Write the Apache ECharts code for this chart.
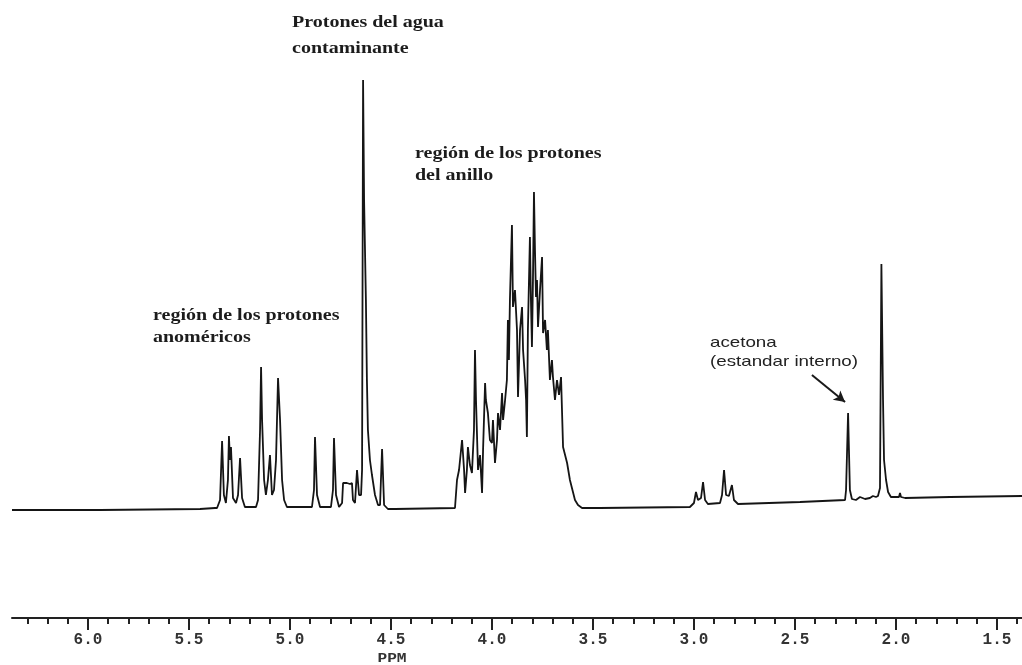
<!DOCTYPE html>
<html>
<head>
<meta charset="utf-8">
<script src="https://cdn.jsdelivr.net/npm/echarts@6/dist/echarts.min.js"></script>
<style>
html,body{margin:0;padding:0;background:#fff;}
#chart{width:1022px;height:665px;}
</style>
</head>
<body>
<div id="chart"></div>
<script>
// chemical shift (ppm), intensity (arbitrary units)
const baselineLeft = [[6.376,0],[5.940,0],[5.445,1],[5.371,2]];
const anomericRegion = [
  [5.361,2],[5.346,10],[5.336,69],[5.327,15],[5.317,7],[5.307,30],[5.302,74],[5.297,50],[5.292,63],[5.282,12],
  [5.267,7],[5.257,15],[5.247,52],[5.237,12],[5.223,3],[5.168,3],
  [5.158,10],[5.148,80],[5.143,143],[5.138,90],[5.128,30],[5.119,15],[5.109,30],[5.099,55],[5.089,15],[5.079,20],
  [5.069,50],[5.059,132],[5.049,90],[5.039,30],[5.029,10],[5.015,3],
  [4.891,3],[4.881,20],[4.876,73],[4.866,15],[4.851,3],
  [4.797,3],[4.787,20],[4.782,72],[4.772,15],[4.757,3],[4.742,7],[4.737,27],[4.718,27],[4.703,26],[4.693,27],
  [4.688,10],[4.678,7],[4.668,40],[4.658,15],[4.648,15]
];
const waterRegion = [
  [4.643,40],[4.638,430],[4.633,310],[4.624,210],[4.619,130],[4.614,80],[4.604,50],[4.594,35],[4.579,15],[4.564,5],
  [4.554,5],[4.544,61],[4.534,5],[4.515,1],[4.480,1],[4.183,2]
];
const ringRegion = [
  [4.173,30],[4.163,40],[4.148,70],[4.138,40],[4.133,17],[4.124,40],[4.119,63],[4.109,45],[4.099,37],[4.089,80],
  [4.084,160],[4.079,110],[4.069,40],[4.059,55],[4.049,17],[4.044,60],[4.034,127],[4.030,110],[4.020,97],[4.010,70],
  [4.000,67],[3.995,90],[3.985,47],[3.975,70],[3.970,97],[3.960,80],[3.950,117],[3.945,90],[3.935,110],[3.926,130],
  [3.921,190],[3.916,150],[3.911,210],[3.901,285],[3.896,203],[3.886,220],[3.876,180],[3.871,113],[3.861,180],[3.851,203],
  [3.846,160],[3.836,130],[3.831,110],[3.827,73],[3.822,180],[3.812,273],[3.807,210],[3.802,163],[3.797,230],[3.792,318],
  [3.787,260],[3.782,213],[3.777,230],[3.772,183],[3.762,220],[3.752,253],[3.747,177],[3.737,190],[3.728,160],[3.723,180],
  [3.713,130],[3.703,150],[3.698,133],[3.688,110],[3.678,130],[3.668,115],[3.658,133],[3.648,63],[3.638,55],[3.628,47],
  [3.614,30],[3.599,18],[3.589,10],[3.574,5],[3.554,2],[3.515,2]
];
const highFieldRegion = [
  [3.465,2],[3.020,3],[3.000,7],[2.990,18],[2.980,10],[2.965,12],[2.955,28],[2.945,10],[2.931,6],
  [2.871,7],[2.861,15],[2.851,40],[2.841,15],[2.827,14],[2.812,25],[2.802,10],[2.782,6],
  [2.475,8],[2.252,10],[2.247,20],[2.237,97],[2.228,20],[2.218,11],[2.198,10],[2.178,13],[2.153,11],[2.129,12],
  [2.114,14],[2.099,13],[2.089,14],[2.079,22],[2.072,246],[2.064,110],[2.059,50],[2.049,30],[2.039,18],[2.025,13],
  [1.985,13],[1.980,17],[1.975,13],[1.955,12],[1.732,13],[1.376,14]
];
// axis ticks (ppm)
const majorTicks = [6.0,5.5,5.0,4.5,4.0,3.5,3.0,2.5,2.0,1.5];
const minorTicks = [6.3,6.2,6.1,6.0,5.9,5.8,5.7,5.6,5.5,5.4,5.3,5.2,5.1,5.0,4.9,4.8,4.7,4.6,4.5,4.4,4.3,4.2,4.1,4.0,
  3.9,3.8,3.7,3.6,3.5,3.4,3.3,3.2,3.1,3.0,2.9,2.8,2.7,2.6,2.5,2.4,2.3,2.2,2.1,2.0,1.9,1.8,1.7,1.6,1.5,1.4];
const axisRange = [1.376, 6.376];
const axisName = 'PPM';
// arrow pointing at the acetone peak: [ppm, intensity] start and end
const acetoneArrow = [[2.416,135],[2.252,108]];
const annotationsSerif = [
  ['Protones del agua', 292, 15],
  ['contaminante', 292, 41],
  ['región de los protones', 415, 146],
  ['del anillo', 415, 168],
  ['región de los protones', 153, 308],
  ['anoméricos', 153, 330]
];
const annotationsSans = [
  ['acetona', 710, 335],
  ['(estandar interno)', 710, 354]
];

const spectrum = [].concat(baselineLeft, anomericRegion, waterRegion, ringRegion, highFieldRegion);

const chart = echarts.init(document.getElementById('chart'));
const graphics = [];
annotationsSerif.forEach(a => graphics.push({
  type:'text', x:a[1], y:a[2], scaleX:1.25, silent:true,
  style:{text:a[0], fontFamily:'"Liberation Serif", serif', fontSize:16, fontWeight:'bold', fill:'#1c1c1c', align:'left', verticalAlign:'top'}
}));
annotationsSans.forEach(a => graphics.push({
  type:'text', x:a[1], y:a[2], scaleX:1.25, silent:true,
  style:{text:a[0], fontFamily:'"Liberation Sans", sans-serif', fontSize:15, fill:'#222', align:'left', verticalAlign:'top'}
}));
graphics.push({
  type:'text', x:392, y:653, scaleX:1.35, silent:true,
  style:{text:axisName, fontFamily:'"Liberation Mono", monospace', fontSize:12, fontWeight:'bold', fill:'#333', align:'center', verticalAlign:'top'}
});

chart.setOption({
  animation:false,
  backgroundColor:'#ffffff',
  grid:{left:12, right:0, top:58, bottom:47},
  xAxis:[
    {type:'value', inverse:true, min:axisRange[0], max:axisRange[1], position:'bottom',
     axisLine:{show:true, onZero:false, lineStyle:{color:'#222', width:2}},
     axisTick:{show:true, customValues:minorTicks, length:6, lineStyle:{color:'#222', width:2}},
     axisLabel:{show:false}, splitLine:{show:false}},
    {type:'value', inverse:true, min:axisRange[0], max:axisRange[1], position:'bottom',
     axisLine:{show:false, onZero:false},
     axisTick:{show:true, customValues:majorTicks, length:12, lineStyle:{color:'#222', width:2}},
     axisLabel:{show:true, customValues:majorTicks, formatter:v => Number(v).toFixed(1), margin:14,
       fontFamily:'"Liberation Mono", monospace', fontSize:16, fontWeight:'bold', color:'#333'},
     splitLine:{show:false}}
  ],
  yAxis:{type:'value', min:-108, max:452, show:false},
  series:[{
    type:'line', xAxisIndex:0, data:spectrum, symbol:'none', showSymbol:false,
    lineStyle:{color:'#151515', width:1.8}, silent:true,
    markLine:{
      silent:true, symbol:['none','arrow'], symbolSize:[9,11],
      label:{show:false},
      lineStyle:{color:'#1a1a1a', width:2, type:'solid'},
      data:[[{coord:acetoneArrow[0]},{coord:acetoneArrow[1]}]]
    }
  }],
  graphic:graphics
});
</script>
</body>
</html>
